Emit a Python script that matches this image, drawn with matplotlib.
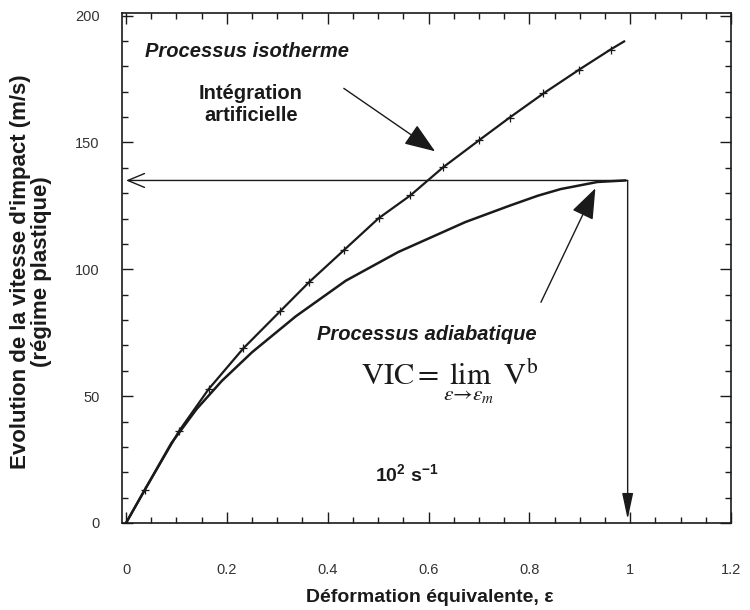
import matplotlib
matplotlib.use("Agg")
import matplotlib.pyplot as plt
from matplotlib.ticker import MultipleLocator, FuncFormatter

plt.rcParams['font.family'] = ['Liberation Sans', 'DejaVu Sans']
plt.rcParams['mathtext.fontset'] = 'custom'
plt.rcParams['mathtext.rm'] = 'Liberation Sans'
plt.rcParams['mathtext.bf'] = 'Liberation Sans:bold'
plt.rcParams['mathtext.it'] = 'Liberation Sans:italic'

# isothermal curve (points with tick marks)
iso_x = [0.0, 0.037, 0.105, 0.164, 0.233, 0.306, 0.363, 0.432, 0.501, 0.564,
         0.629, 0.700, 0.761, 0.828, 0.899, 0.961, 0.988]
iso_y = [0.0, 13.0, 36.2, 52.8, 68.9, 83.5, 94.9, 107.5, 120.1, 129.1,
         140.2, 150.8, 159.8, 169.3, 178.7, 186.6, 189.8]

# adiabatic curve
adi_x = [0.0, 0.037, 0.09, 0.14, 0.19, 0.25, 0.337, 0.436, 0.54, 0.673,
         0.76, 0.817, 0.862, 0.935, 0.99]
adi_y = [0.0, 13.0, 31.5, 44.9, 56.0, 67.3, 81.5, 95.5, 106.8, 118.6,
         125.0, 129.0, 131.6, 134.4, 135.0]

eps_m = 0.995
vic = 135.0

ink = '#1a1a1a'

fig = plt.figure(figsize=(7.5, 6.1), dpi=100)
ax = fig.add_axes([122 / 750, 1 - 523 / 610, (731 - 122) / 750, (523 - 13) / 610])

ax.plot(iso_x, iso_y, color=ink, lw=1.6, marker='+', ms=5.5, mew=0.9,
        markevery=slice(1, -1))
ax.plot(adi_x, adi_y, color=ink, lw=1.8)

# VIC arrows
ax.annotate('', xy=(0.0, vic), xytext=(eps_m, vic),
            arrowprops=dict(arrowstyle='->,head_length=0.6,head_width=0.25',
                            color=ink, lw=1.0, mutation_scale=20,
                            shrinkA=0, shrinkB=0))
ax.annotate('', xy=(eps_m, 1.5), xytext=(eps_m, vic),
            arrowprops=dict(arrowstyle='-|>,head_length=0.8,head_width=0.17',
                            color=ink, lw=1.0, mutation_scale=20,
                            shrinkA=0, shrinkB=0))

# pointer arrows
ax.annotate('', xy=(0.613, 146.5), xytext=(0.432, 171.3),
            arrowprops=dict(arrowstyle='-|>,head_length=1.2,head_width=0.45',
                            color=ink, lw=1.0, mutation_scale=16,
                            shrinkA=0, shrinkB=0))
ax.annotate('', xy=(0.931, 131.9), xytext=(0.823, 87.0),
            arrowprops=dict(arrowstyle='-|>,head_length=1.2,head_width=0.45',
                            color=ink, lw=1.0, mutation_scale=16,
                            shrinkA=0, shrinkB=0))

ax.text(0.037, 185.8, 'Processus isotherme', fontsize=14.5, fontweight='bold',
        fontstyle='italic', ha='left', va='center', color=ink)
ax.text(0.248, 165, 'Intégration\nartificielle', fontsize=14.5, fontweight='bold',
        ha='center', va='center', linespacing=1.2, color=ink)
ax.text(0.379, 74.4, 'Processus adiabatique', fontsize=14.5, fontweight='bold',
        fontstyle='italic', ha='left', va='center', color=ink)
ax.text(0.467, 54.3,
        r'$\mathrm{VIC} = \lim_{\varepsilon \rightarrow \varepsilon_{m}}\ \mathrm{V}^{\mathrm{b}}$',
        fontsize=22, math_fontfamily='stix', ha='left', va='baseline', color=ink)
ax.text(0.556, 19.3, r'$\mathbf{10^{2}\ s^{-1}}$', fontsize=14,
        ha='center', va='center', color=ink)

ax.set_xlim(-0.008, 1.2)
ax.set_ylim(0, 201)
ax.xaxis.set_major_locator(MultipleLocator(0.2))
ax.xaxis.set_minor_locator(MultipleLocator(0.05))
ax.yaxis.set_major_locator(MultipleLocator(50))
ax.yaxis.set_minor_locator(MultipleLocator(10))
ax.xaxis.set_major_formatter(FuncFormatter(lambda v, p: '%g' % round(v, 2)))
ax.tick_params(which='both', direction='in', top=True, right=True,
               color=ink, width=1.0, labelsize=10.5, labelcolor='#333333')
ax.tick_params(which='major', length=8)
ax.tick_params(which='minor', length=4)
ax.tick_params(axis='x', pad=29)
ax.tick_params(axis='y', pad=16)
for s in ax.spines.values():
    s.set_linewidth(1.2)
    s.set_color(ink)

fig.text(430 / 750, 1 - 598 / 610, 'Déformation équivalente, ε', fontsize=14,
         fontweight='bold', ha='center', va='center', color=ink)
fig.text(31 / 750, 1 - 272 / 610,
         "Evolution de la vitesse d'impact (m/s)\n(régime plastique)",
         fontsize=16, fontweight='bold', rotation=90, ha='center', va='center',
         multialignment='center', linespacing=0.95, color=ink)

fig.savefig('out.png', dpi=100)
